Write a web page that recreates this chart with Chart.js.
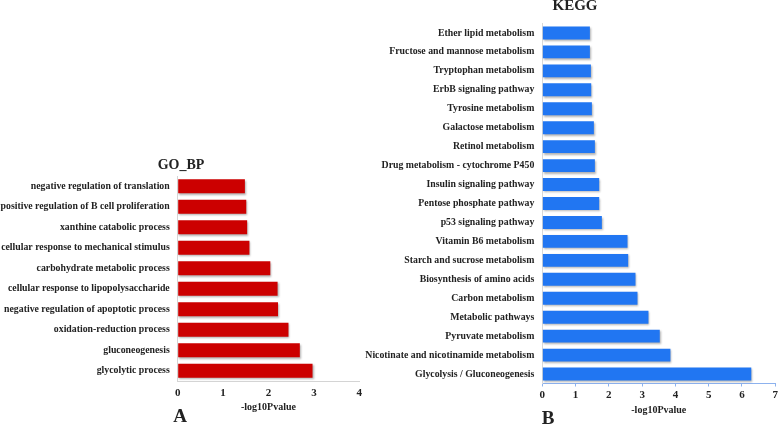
<!DOCTYPE html>
<html>
<head>
<meta charset="utf-8">
<script src="https://cdn.jsdelivr.net/npm/chart.js@4"></script>
<style>
  html, body { margin: 0; padding: 0; background: #fff; }
  body { width: 778px; height: 424px; position: relative; overflow: hidden; font-family: "Liberation Serif", serif; color: #222; }
  .box { position: absolute; }
  .lbl { position: absolute; font-weight: bold; transform: translate(-50%, -50%); white-space: nowrap; }
</style>
</head>
<body>
<div class="box" style="left:0;top:150px;width:380px;height:274px"><canvas id="goChart"></canvas></div>
<div class="box" style="left:355px;top:0;width:425px;height:424px"><canvas id="keggChart"></canvas></div>
<div class="lbl" style="left:181px;top:165px;font-size:14px">GO_BP</div>
<div class="lbl" style="left:575px;top:5px;font-size:15px">KEGG</div>
<div class="lbl" style="left:180px;top:416px;font-size:19px">A</div>
<div class="lbl" style="left:548px;top:418px;font-size:19px">B</div>
<script>
// GO biological process terms (top to bottom)
const goTerms = [
    "negative regulation of translation",
    "positive regulation of B cell proliferation",
    "xanthine catabolic process",
    "cellular response to mechanical stimulus",
    "carbohydrate metabolic process",
    "cellular response to lipopolysaccharide",
    "negative regulation of apoptotic process",
    "oxidation-reduction process",
    "gluconeogenesis",
    "glycolytic process"
];
const goValues = [1.48, 1.51, 1.53, 1.58, 2.04, 2.20, 2.21, 2.44, 2.69, 2.97];

// KEGG pathways (top to bottom)
const keggTerms = [
    "Ether lipid metabolism",
    "Fructose and mannose metabolism",
    "Tryptophan metabolism",
    "ErbB signaling pathway",
    "Tyrosine metabolism",
    "Galactose metabolism",
    "Retinol metabolism",
    "Drug metabolism - cytochrome P450",
    "Insulin signaling pathway",
    "Pentose phosphate pathway",
    "p53 signaling pathway",
    "Vitamin B6 metabolism",
    "Starch and sucrose metabolism",
    "Biosynthesis of amino acids",
    "Carbon metabolism",
    "Metabolic pathways",
    "Pyruvate metabolism",
    "Nicotinate and nicotinamide metabolism",
    "Glycolysis / Gluconeogenesis"
];
const keggValues = [1.43, 1.43, 1.46, 1.47, 1.49, 1.55, 1.58, 1.58, 1.71, 1.71,
                    1.79, 2.56, 2.58, 2.80, 2.86, 3.19, 3.53, 3.85, 6.28];

const axisTitle = "-log10Pvalue";
const textColor = "#222";
const serif = "'Liberation Serif', 'Times New Roman', serif";

// soft drop shadow under the bars
const barShadow = {
    id: "barShadow",
    beforeDatasetsDraw(chart) {
        const ctx = chart.ctx;
        ctx.save();
        ctx.shadowColor = "rgba(0,0,0,0.3)";
        ctx.shadowBlur = 2;
        ctx.shadowOffsetX = 1;
        ctx.shadowOffsetY = 1.5;
    },
    afterDatasetsDraw(chart) {
        chart.ctx.restore();
    }
};

function makeChart(id, labels, values, cfg) {
    const ctx = document.getElementById(id).getContext("2d");
    return new Chart(ctx, {
        type: "bar",
        data: {
            labels: labels,
            datasets: [{
                data: values,
                backgroundColor: cfg.color,
                categoryPercentage: 1,
                barPercentage: 0.68
            }]
        },
        options: {
            indexAxis: "y",
            responsive: true,
            maintainAspectRatio: false,
            animation: false,
            layout: { padding: { top: cfg.padTop, right: cfg.padRight, left: 0, bottom: 0 } },
            plugins: { legend: { display: false }, tooltip: { enabled: false } },
            scales: {
                x: {
                    min: 0,
                    max: cfg.max,
                    ticks: { stepSize: 1, color: textColor, padding: cfg.tickPad, font: { family: serif, size: 11, weight: "bold" } },
                    grid: { drawOnChartArea: false, drawTicks: cfg.xTicks, tickLength: 3, color: cfg.xBorder },
                    border: { display: true, color: cfg.xBorder, width: 1 },
                    title: { display: true, text: axisTitle, color: textColor, padding: { top: 0, bottom: cfg.titlePad }, font: { family: serif, size: 10, weight: "bold" } },
                    afterFit(scale) { scale.height = cfg.xHeight; }
                },
                y: {
                    ticks: { color: textColor, padding: 8, autoSkip: false, font: { family: serif, size: 9.8, weight: "bold" } },
                    grid: { display: false, drawTicks: false },
                    border: { display: true, color: cfg.yBorder, width: 1 },
                    afterFit(scale) { scale.width = cfg.yWidth; }
                }
            }
        },
        plugins: [barShadow]
    });
}

makeChart("goChart", goTerms, goValues, {
    color: "#CC0000", max: 4, padTop: 26, padRight: 20.7,
    xHeight: 43, yWidth: 177.7, titlePad: 11, tickPad: 6, xTicks: false,
    xBorder: "#d4d4d4", yBorder: "#d4d4d4"
});

makeChart("keggChart", keggTerms, keggValues, {
    color: "#2176F2", max: 7, padTop: 23.5, padRight: 4.3,
    xHeight: 40.5, yWidth: 187.3, titlePad: 7.3, tickPad: 2, xTicks: true,
    xBorder: "#8db2ee", yBorder: "#d8d8d8"
});
</script>
</body>
</html>
